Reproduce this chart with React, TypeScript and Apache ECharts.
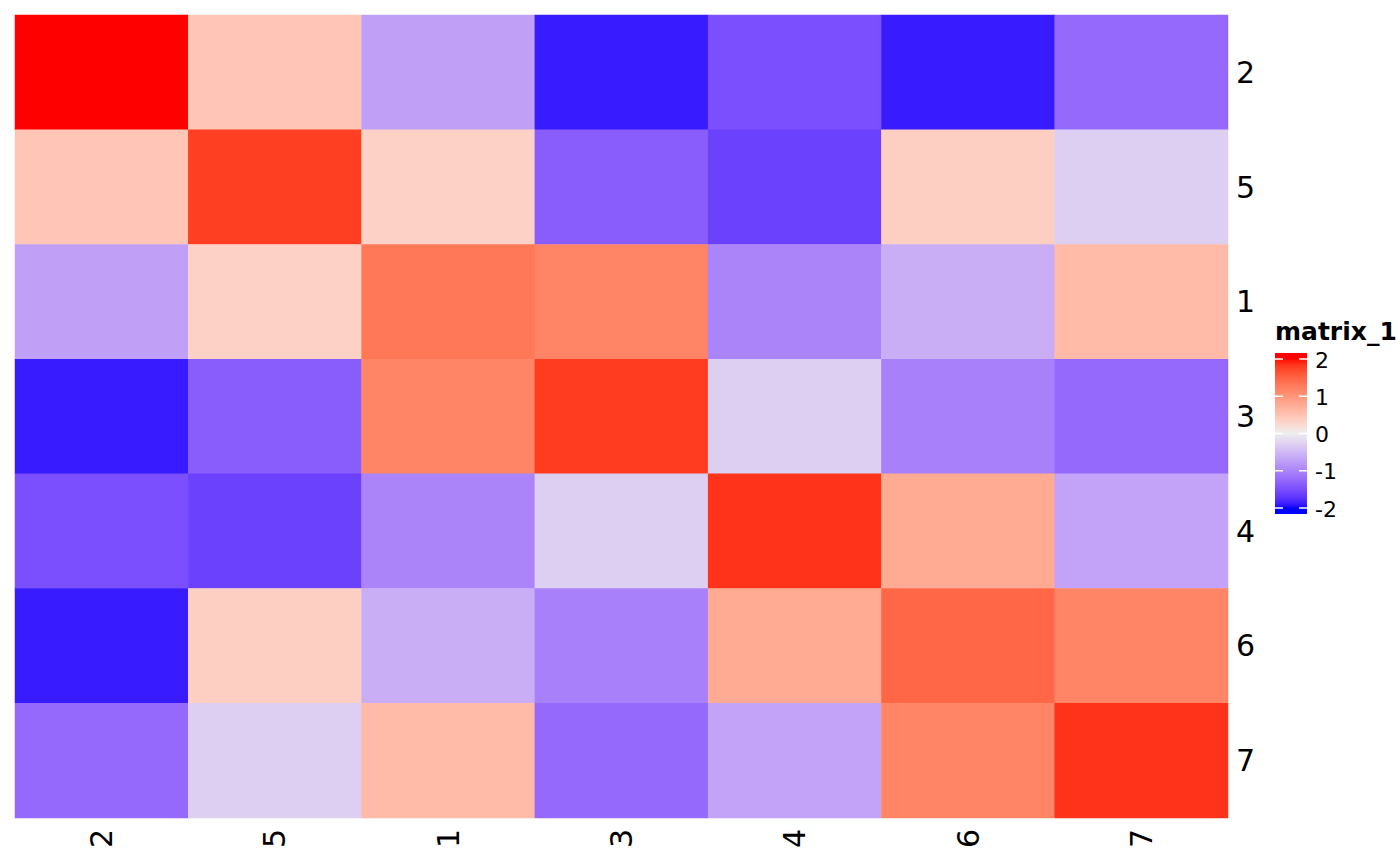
import React, { useEffect, useRef } from "react";
import * as echarts from "echarts";

const rowLabels = ["2", "5", "1", "3", "4", "6", "7"];
const colLabels = ["2", "5", "1", "3", "4", "6", "7"];
const row2 = [2.0, 0.47, -0.73, -1.89, -1.49, -1.89, -1.25];
const row5 = [0.47, 1.78, 0.34, -1.36, -1.61, 0.36, -0.29];
const row1 = [-0.73, 0.34, 1.3, 1.18, -0.99, -0.6, 0.59];
const row3 = [-1.89, -1.36, 1.18, 1.8, -0.29, -1.02, -1.25];
const row4 = [-1.49, -1.61, -0.99, -0.29, 1.85, 0.78, -0.7];
const row6 = [-1.89, 0.36, -0.6, -1.02, 0.78, 1.47, 1.18];
const row7 = [-1.25, -0.29, 0.59, -1.25, -0.7, 1.18, 1.85];
const matrix = [row2, row5, row1, row3, row4, row6, row7];
const legendTicks = [2, 1, 0, -1, -2];
const legendTitle = "matrix_1";

function toLin(c: number) {
  c = c / 255;
  return c <= 0.04045 ? c / 12.92 : Math.pow((c + 0.055) / 1.055, 2.4);
}
function toGam(c: number) {
  const v = c <= 0.0031308 ? 12.92 * c : 1.055 * Math.pow(c, 1 / 2.4) - 0.055;
  return Math.max(0, Math.min(255, Math.round(v * 255)));
}
const Xn = 0.95047, Yn = 1.0, Zn = 1.08883;
function f(t: number) {
  return t > 0.008856 ? Math.cbrt(t) : 7.787 * t + 16 / 116;
}
function finv(t: number) {
  const t3 = t * t * t;
  return t3 > 0.008856 ? t3 : (t - 16 / 116) / 7.787;
}
function hexToLab(hex: string) {
  const r = toLin(parseInt(hex.slice(1, 3), 16));
  const g = toLin(parseInt(hex.slice(3, 5), 16));
  const b = toLin(parseInt(hex.slice(5, 7), 16));
  const X = 0.4124 * r + 0.3576 * g + 0.1805 * b;
  const Y = 0.2126 * r + 0.7152 * g + 0.0722 * b;
  const Z = 0.0193 * r + 0.1192 * g + 0.9505 * b;
  const fx = f(X / Xn), fy = f(Y / Yn), fz = f(Z / Zn);
  return [116 * fy - 16, 500 * (fx - fy), 200 * (fy - fz)];
}
function labToHex(L: number, a: number, bb: number) {
  const fy = (L + 16) / 116;
  const fx = fy + a / 500;
  const fz = fy - bb / 200;
  const X = finv(fx) * Xn, Y = finv(fy) * Yn, Z = finv(fz) * Zn;
  const r = 3.2406 * X - 1.5372 * Y - 0.4986 * Z;
  const g = -0.9689 * X + 1.8758 * Y + 0.0415 * Z;
  const b = 0.0557 * X - 0.204 * Y + 1.057 * Z;
  const h = (v: number) => toGam(Math.max(0, v)).toString(16).padStart(2, "0");
  return "#" + h(r) + h(g) + h(b);
}
const LOW = hexToLab("#0000FF");
const MID = hexToLab("#EEEEEE");
const HIGH = hexToLab("#FF0000");
function colorFor(v: number) {
  v = Math.max(-2, Math.min(2, v));
  let A, B, t;
  if (v < 0) { A = MID; B = LOW; t = -v / 2; } else { A = MID; B = HIGH; t = v / 2; }
  return labToHex(A[0] + (B[0] - A[0]) * t, A[1] + (B[1] - A[1]) * t, A[2] + (B[2] - A[2]) * t);
}

export default function App() {
  const ref = useRef<HTMLDivElement>(null);
  useEffect(() => {
    const chart = echarts.init(ref.current!, null, { renderer: "svg" });
    const data: any[] = [];
    matrix.forEach((row, i) => row.forEach((v, j) => data.push([j, i, v])));
    const stops: string[] = [];
    for (let k = 0; k <= 80; k++) stops.push(colorFor(-2 + k * 0.05));

    // legend geometry
    const barX = 1275, barW = 32, barTop = 353, barBot = 514;
    const y0 = 433.5, unit = 37.25;
    const vTop = (y0 - barTop) / unit, vBot = (y0 - barBot) / unit;
    const gradStops: any[] = [];
    for (let k = 0; k <= 60; k++) {
      const v = vTop + ((vBot - vTop) * k) / 60;
      gradStops.push({ offset: k / 60, color: colorFor(v) });
    }
    const graphics: any[] = [
      {
        type: "rect",
        shape: { x: barX, y: barTop, width: barW, height: barBot - barTop },
        style: { fill: new echarts.graphic.LinearGradient(0, 0, 0, 1, gradStops) },
        z: 10,
      },
      {
        type: "text",
        x: 1275,
        y: 331,
        style: {
          text: legendTitle,
          fontSize: 25,
          fontWeight: "bold",
          fontFamily: "DejaVu Sans",
          fill: "#000",
          verticalAlign: "middle",
          align: "left",
        },
        z: 10,
      },
    ];
    legendTicks.forEach((t) => {
      const y = y0 - t * unit;
      graphics.push({
        type: "line",
        shape: { x1: barX, y1: y, x2: barX + 8, y2: y },
        style: { stroke: "#fff", lineWidth: 1.5 },
        z: 11,
      });
      graphics.push({
        type: "line",
        shape: { x1: barX + barW - 8, y1: y, x2: barX + barW, y2: y },
        style: { stroke: "#fff", lineWidth: 1.5 },
        z: 11,
      });
      graphics.push({
        type: "text",
        x: 1315,
        y: y + 1,
        style: {
          text: String(t),
          fontSize: 22,
          fontFamily: "DejaVu Sans",
          fill: "#000",
          verticalAlign: "middle",
          align: "left",
        },
        z: 10,
      });
    });

    chart.setOption({
      animation: false,
      backgroundColor: "#fff",
      grid: { left: 15, top: 15, width: 1213, height: 803, outerBoundsMode: "none" },
      xAxis: {
        type: "category",
        data: colLabels,
        position: "bottom",
        axisLine: { show: false },
        axisTick: { show: false },
        splitLine: { show: false },
        axisLabel: {
          rotate: 90,
          margin: 11,
          fontSize: 30,
          color: "#000",
          fontFamily: "DejaVu Sans",
        },
      },
      yAxis: {
        type: "category",
        data: rowLabels,
        position: "right",
        inverse: true,
        axisLine: { show: false },
        axisTick: { show: false },
        splitLine: { show: false },
        axisLabel: {
          margin: 8,
          fontSize: 30,
          color: "#000",
          fontFamily: "DejaVu Sans",
          align: "left",
        },
      },
      visualMap: {
        show: false,
        type: "continuous",
        min: -2,
        max: 2,
        dimension: 2,
        inRange: { color: stops },
      },
      series: [
        {
          type: "heatmap",
          data,
          itemStyle: { borderWidth: 0 },
          emphasis: { disabled: true },
        },
      ],
      graphic: graphics,
    });
    return () => chart.dispose();
  }, []);
  return (
    <div
      ref={ref}
      style={{ position: "fixed", left: 0, top: 0, width: 1400, height: 866, background: "#fff" }}
    />
  );
}
